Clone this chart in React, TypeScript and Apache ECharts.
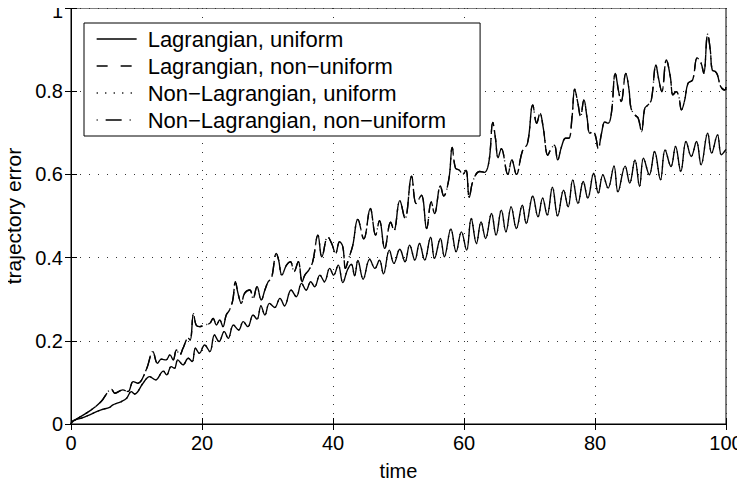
import React, { useEffect, useRef } from "react";
import * as echarts from "echarts";

const X_TICKS = [0, 20, 40, 60, 80, 100];
const Y_TICKS = [0, 0.2, 0.4, 0.6, 0.8, 1];

const SERIES_NAMES = [
  "Lagrangian, uniform",
  "Lagrangian, non\u2212uniform",
  "Non\u2212Lagrangian, uniform",
  "Non\u2212Lagrangian, non\u2212uniform",
];

// lower curve (uniform grids)
const UNIFORM_T = [
  0, 0.3, 1.6, 3.1, 4.6, 5.9, 6.4, 7.7, 8.5, 9.2, 9.7, 11.0, 12.0, 12.9, 14.1, 14.6, 15.3, 15.8, 16.3, 17.1,
  17.9, 18.5, 19.0, 19.6, 20.4, 21.2, 21.9, 22.6, 23.4, 24.0, 24.8, 25.6, 26.3, 27.0, 27.8, 28.4, 29.0, 29.6,
  30.3, 31.1, 31.9, 32.6, 33.6, 34.4, 35.2, 35.9, 36.6, 37.2, 38.0, 38.7, 39.5, 40.1, 40.8, 41.5, 42.2, 42.8,
  43.3, 43.8, 44.6, 45.6, 46.4, 47.1, 47.7, 48.6, 49.3, 50.2, 51.0, 51.7, 52.5, 53.2, 54.0, 54.9, 55.5, 56.4,
  57.0, 58.0, 58.8, 59.6, 60.4, 61.1, 61.9, 62.6, 63.3, 64.2, 64.9, 65.7, 66.4, 67.2, 68.0, 68.9, 69.5, 70.5,
  71.3, 72.0, 72.7, 73.5, 74.3, 75.2, 75.9, 76.6, 77.4, 78.2, 78.9, 79.8, 80.5, 81.2, 82.0, 82.9, 83.5, 84.6,
  85.3, 86.1, 86.8, 87.4, 88.3, 89.1, 90.0, 90.7, 91.6, 92.3, 93.1, 93.9, 94.7, 95.5, 96.2, 97.2, 97.8, 98.7,
  99.3, 100,
];
const LAG_UNIFORM = [
  0, 0.008, 0.014, 0.024, 0.034, 0.04, 0.046, 0.054, 0.062, 0.078, 0.072, 0.098, 0.114, 0.106, 0.127, 0.118,
  0.138, 0.134, 0.154, 0.142, 0.158, 0.15, 0.182, 0.17, 0.19, 0.174, 0.214, 0.198, 0.222, 0.206, 0.238, 0.226,
  0.246, 0.234, 0.262, 0.252, 0.284, 0.262, 0.29, 0.28, 0.302, 0.284, 0.322, 0.306, 0.338, 0.322, 0.342, 0.33,
  0.358, 0.342, 0.374, 0.358, 0.382, 0.34, 0.37, 0.384, 0.356, 0.393, 0.348, 0.396, 0.374, 0.394, 0.361, 0.418,
  0.386, 0.42, 0.39, 0.43, 0.394, 0.434, 0.394, 0.449, 0.398, 0.446, 0.402, 0.469, 0.414, 0.462, 0.418, 0.494,
  0.434, 0.486, 0.446, 0.506, 0.454, 0.514, 0.462, 0.522, 0.47, 0.526, 0.482, 0.548, 0.498, 0.543, 0.502, 0.569,
  0.5, 0.562, 0.522, 0.587, 0.53, 0.583, 0.543, 0.603, 0.555, 0.599, 0.567, 0.62, 0.558, 0.62, 0.579, 0.635,
  0.571, 0.639, 0.599, 0.655, 0.587, 0.659, 0.619, 0.667, 0.607, 0.679, 0.643, 0.679, 0.623, 0.699, 0.651, 0.695,
  0.647, 0.66,
];
// dotted curve lies on top of the solid one in the picture
const NONLAG_UNIFORM = LAG_UNIFORM;

// upper curve (non-uniform grids)
const NONUNIFORM_T = [
  0, 0.3, 1.6, 3.1, 4.6, 6.2, 6.7, 7.9, 8.7, 9.5, 10.2, 11.5, 12.5, 13.2, 13.8, 14.5, 15.1, 15.6, 16.1, 16.6,
  17.1, 17.9, 18.2, 18.7, 19.1, 19.6, 20.4, 21.2, 21.7, 22.2, 22.7, 23.2, 23.7, 24.2, 24.7, 25.1, 25.5, 26.0,
  26.5, 27.3, 27.8, 28.4, 29.05, 29.6, 30.1, 30.6, 31.35, 31.7, 32.2, 32.9, 33.5, 34.05, 34.7, 35.3, 35.7, 36.3,
  36.9, 37.7, 38.3, 39.2, 39.8, 40.4, 41.0, 41.5, 41.9, 42.4, 43.0, 43.8, 44.7, 45.7, 46.5, 47.1, 47.9, 48.8,
  49.3, 50.2, 51.0, 52.0, 52.7, 53.5, 54.3, 55.0, 55.5, 56.4, 56.9, 57.7, 58.2, 58.7, 59.3, 59.8, 60.3, 60.8,
  61.4, 62.4, 63.1, 63.8, 64.4, 64.8, 65.2, 65.7, 66.7, 67.3, 68.0, 68.9, 69.7, 70.5, 71.1, 71.6, 72.1, 72.8,
  73.3, 73.8, 74.3, 74.9, 75.5, 76.0, 76.5, 76.9, 77.4, 77.8, 78.3, 78.8, 79.2, 79.7, 80.1, 80.5, 81.0, 81.5,
  82.0, 82.5, 83.1, 83.6, 84.0, 84.7, 85.2, 85.5, 86.1, 86.6, 87.1, 87.6, 88.1, 88.6, 89.3, 89.7, 90.2, 90.9,
  91.5, 91.9, 92.4, 92.8, 93.2, 93.7, 94.2, 94.9, 95.6, 96.2, 96.6, 97.2, 97.6, 97.9, 98.4, 98.7, 99.2, 99.8,
  100,
];
const LAG_NONUNIFORM = [
  0, 0.006, 0.019, 0.034, 0.054, 0.083, 0.074, 0.082, 0.078, 0.102, 0.098, 0.131, 0.174, 0.146, 0.156, 0.154,
  0.166, 0.154, 0.178, 0.166, 0.182, 0.206, 0.202, 0.265, 0.238, 0.234, 0.238, 0.242, 0.254, 0.238, 0.25, 0.234,
  0.262, 0.274, 0.298, 0.342, 0.314, 0.29, 0.314, 0.322, 0.302, 0.33, 0.298, 0.322, 0.342, 0.35, 0.41, 0.394,
  0.358, 0.382, 0.39, 0.366, 0.39, 0.342, 0.358, 0.37, 0.39, 0.454, 0.402, 0.45, 0.434, 0.41, 0.438, 0.426,
  0.374, 0.398, 0.428, 0.492, 0.445, 0.518, 0.454, 0.489, 0.422, 0.485, 0.465, 0.537, 0.494, 0.596, 0.53, 0.55,
  0.47, 0.534, 0.506, 0.572, 0.548, 0.59, 0.665, 0.615, 0.61, 0.6, 0.61, 0.545, 0.586, 0.607, 0.605, 0.63,
  0.725, 0.687, 0.64, 0.662, 0.6, 0.635, 0.6, 0.655, 0.675, 0.767, 0.723, 0.747, 0.712, 0.646, 0.662, 0.67,
  0.635, 0.667, 0.687, 0.687, 0.739, 0.805, 0.77, 0.739, 0.779, 0.735, 0.699, 0.703, 0.691, 0.662, 0.699, 0.726,
  0.723, 0.747, 0.843, 0.8, 0.775, 0.843, 0.803, 0.759, 0.743, 0.735, 0.703, 0.759, 0.767, 0.779, 0.863, 0.831,
  0.799, 0.875, 0.835, 0.791, 0.799, 0.787, 0.755, 0.779, 0.819, 0.827, 0.88, 0.867, 0.843, 0.937, 0.899, 0.851,
  0.847, 0.839, 0.811, 0.803, 0.81,
];
// dash-dot curve lies on top of the dashed one in the picture
const NONLAG_NONUNIFORM = LAG_NONUNIFORM;

const FONT = "'Liberation Sans', Arial, Helvetica, sans-serif";

function pairs(ts: number[], vs: number[]) {
  return ts.map((t, i) => [t, vs[i]]);
}

export default function App() {
  const ref = useRef<HTMLDivElement>(null);
  useEffect(() => {
    if (!ref.current) return;
    const chart = echarts.init(ref.current, undefined, { renderer: "svg" });
    // dash patterns of the plotted curves and of the legend samples
    const curveDash: any[] = ["solid", [12, 6], [1.2, 5], [1, 4, 16, 4]];
    const legendDash: any[] = ["solid", [11, 13], [1.2, 7.3], [1, 8, 16, 8]];
    const datas = [
      pairs(UNIFORM_T, LAG_UNIFORM),
      pairs(NONUNIFORM_T, LAG_NONUNIFORM),
      pairs(UNIFORM_T, NONLAG_UNIFORM),
      pairs(NONUNIFORM_T, NONLAG_NONUNIFORM),
    ];
    const axisCommon = {
      type: "value",
      axisLine: { show: true, lineStyle: { color: "#000", width: 1 } },
      axisTick: { show: true, inside: true, length: 6, lineStyle: { color: "#000", width: 1 } },
    };
    const labelStyle = { color: "#000", fontFamily: FONT, fontSize: 20 };
    const gridLine = { show: true, lineStyle: { color: "#333", width: 1, type: [1, 8] } };
    const yMax = Y_TICKS[Y_TICKS.length - 1];
    chart.setOption({
      animation: false,
      backgroundColor: "#fff",
      grid: {
        left: 71,
        right: 19,
        top: 8,
        bottom: 62,
        show: true,
        borderColor: "#000",
        borderWidth: 1,
        backgroundColor: "transparent",
        containLabel: false,
        outerBoundsMode: "none",
      },
      legend: {
        data: SERIES_NAMES.map((name, i) => ({
          name,
          itemStyle: { opacity: 0 },
          lineStyle: { color: "#000", width: 1.3, type: legendDash[i], opacity: 1 },
        })),
        orient: "vertical",
        left: 84,
        top: 23,
        padding: [5, 34, 5, 12],
        itemWidth: 40,
        itemHeight: 14,
        itemGap: 5,
        backgroundColor: "#fff",
        borderColor: "#000",
        borderWidth: 1,
        borderRadius: 0,
        selectedMode: false,
        itemStyle: { opacity: 0 },
        textStyle: {
          color: "#000",
          fontFamily: FONT,
          fontSize: 22,
          lineHeight: 22,
          padding: [0, 0, 0, 6],
        },
      },
      xAxis: [
        {
          ...axisCommon,
          min: X_TICKS[0],
          max: X_TICKS[X_TICKS.length - 1],
          interval: X_TICKS[1] - X_TICKS[0],
          position: "bottom",
          name: "time",
          nameLocation: "middle",
          nameGap: 37,
          nameTextStyle: { ...labelStyle, lineHeight: 20 },
          axisLabel: { ...labelStyle, margin: 9 },
          splitLine: gridLine,
        },
        {
          ...axisCommon,
          min: X_TICKS[0],
          max: X_TICKS[X_TICKS.length - 1],
          interval: X_TICKS[1] - X_TICKS[0],
          position: "top",
          axisLabel: { show: false },
          splitLine: { show: false },
        },
      ],
      yAxis: [
        {
          ...axisCommon,
          min: Y_TICKS[0],
          max: yMax,
          interval: Y_TICKS[1] - Y_TICKS[0],
          position: "left",
          name: "trajectory error",
          nameLocation: "middle",
          nameGap: 47,
          nameTextStyle: { ...labelStyle, fontSize: 21 },
          axisLabel: {
            ...labelStyle,
            margin: 8,
            lineHeight: 16,
            formatter: (v: number) => (v === yMax ? "{top|" + v + "}" : String(v)),
            rich: { top: { ...labelStyle, lineHeight: 16, padding: [6, 0, 0, 0] } },
          },
          splitLine: gridLine,
        },
        {
          ...axisCommon,
          min: Y_TICKS[0],
          max: yMax,
          interval: Y_TICKS[1] - Y_TICKS[0],
          position: "right",
          axisLabel: { show: false },
          splitLine: { show: false },
        },
      ],
      series: SERIES_NAMES.map((name, i) => ({
        type: "line",
        name,
        data: datas[i],
        symbol: "none",
        smooth: 0.4,
        silent: true,
        color: "#000",
        lineStyle: { color: "#000", width: 1.35, type: curveDash[i] },
        z: 3 + i,
      })),
    });
    return () => chart.dispose();
  }, []);
  return <div ref={ref} style={{ width: 745, height: 486, margin: -8 }} />;
}
